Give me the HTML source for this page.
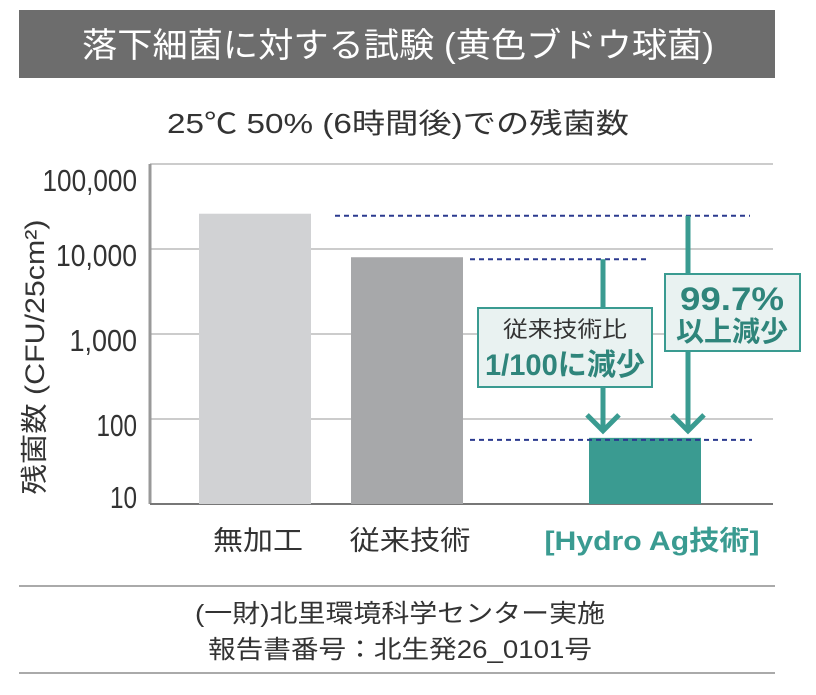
<!DOCTYPE html>
<html><head><meta charset="utf-8"><style>
html,body{margin:0;padding:0;background:#fff;}
svg{display:block;font-family:"Liberation Sans","Noto Sans CJK JP",sans-serif;}
</style></head><body>
<svg id="chart" width="816" height="695" viewBox="0 0 816 695">
<rect x="19" y="10" width="756" height="68" fill="#6d6d6d"/>
<text x="398" y="57" text-anchor="middle" fill="#fff" font-size="34" textLength="632" lengthAdjust="spacingAndGlyphs">落下細菌に対する試験 (黄色ブドウ球菌)</text>
<text x="398" y="133" text-anchor="middle" fill="#333" font-size="28" textLength="462" lengthAdjust="spacingAndGlyphs">25℃ 50% (6時間後)での残菌数</text>
<text transform="translate(44,357) rotate(-90)" text-anchor="middle" fill="#333" font-size="27" textLength="275" lengthAdjust="spacingAndGlyphs">残菌数 (CFU/25cm²)</text>
<g id="grid"></g><g id="bars"></g><g id="ann"></g><g id="xl"></g>
<line x1="19" y1="586" x2="775" y2="586" stroke="#aaa" stroke-width="2"/>
<line x1="19" y1="673" x2="775" y2="673" stroke="#aaa" stroke-width="2"/>
<text x="400" y="622" text-anchor="middle" fill="#333" font-size="25" textLength="410" lengthAdjust="spacingAndGlyphs">(一財)北里環境科学センター実施</text>
<text x="400" y="658" text-anchor="middle" fill="#333" font-size="25" textLength="384" lengthAdjust="spacingAndGlyphs">報告書番号：北生発26_0101号</text>
</svg>
<script>
const categories=["無加工","従来技術","[Hydro Ag技術]"];
const values=[26000,8000,60];
const ticks=[10,100,1000,10000,100000];
const tickLabels=["10","100","1,000","10,000","100,000"];
const NS="http://www.w3.org/2000/svg";
const X0=150,X1=773,Y0=504,DEC=85;
function y(v){return Y0-(Math.log10(v)-1)*DEC;}
const barX=[199,351,589],barW=112;
function mk(tag,attrs,parent,txt){const e=document.createElementNS(NS,tag);for(const k in attrs)e.setAttribute(k,attrs[k]);if(txt!==undefined)e.textContent=txt;parent.appendChild(e);return e;}
const g=document.getElementById('grid');
ticks.forEach((t,i)=>{
  if(i>0){const l=mk('line',{x1:X0,x2:X1,y1:y(t),y2:y(t),stroke:'#bbb','stroke-width':1.5},g);
  
  }
  const off=i===0?-7:(i===ticks.length-1?16:6);
  const tx=mk('text',{x:137,y:y(t)+off+11,'text-anchor':'end','font-size':31,fill:'#333',textLength:tickLabels[i].length*13.5,lengthAdjust:'spacingAndGlyphs'},g,tickLabels[i]);
  
  
});
const ax=mk('line',{x1:X0,x2:X0,y1:y(100000),y2:Y0,stroke:'#999','stroke-width':3},g);


const bx=mk('line',{x1:X0,x2:X1,y1:Y0,y2:Y0,stroke:'#777','stroke-width':2},g);


const colors=['#d1d2d4','#a7a8aa','#3a9b91'];
const b=document.getElementById('bars');
values.forEach((v,i)=>{
  const r=mk('rect',{x:barX[i],y:y(v),width:barW,height:Y0-y(v),fill:colors[i]},b);
  
  
});
const xl=document.getElementById('xl');
const lx=[258,410,652];
categories.forEach((c,i)=>{
  const t=mk('text',{x:lx[i],y:550,'text-anchor':'middle','font-size':27,fill:i==2?'#3a9b91':'#333','font-weight':i==2?'bold':'normal',textLength:i==2?215:(i==0?90:121),lengthAdjust:'spacingAndGlyphs'},xl,c);
  
  
});
const a=document.getElementById('ann');
const T='#3a9b91';
function dash(x1,x2,v){const l=mk('line',{x1:x1,x2:x2,y1:y(v)+2,y2:y(v)+2,stroke:'#2b3a8f','stroke-width':2,'stroke-dasharray':'5,4'},a);

}
dash(335,750,values[0]);dash(470,650,values[1]);dash(470,752,values[2]);
function arrow(x,v1,v2){
  const top=y(v1)+2,bot=y(v2)-6;
  const p=mk('path',{d:`M${x},${top}V${bot}M${x-16},${bot-17}L${x},${bot-1}L${x+16},${bot-17}`,stroke:T,'stroke-width':5,fill:'none'},a);
  
  
}
arrow(603,values[1],values[2]);arrow(688,values[0],values[2]);
const b1=mk('rect',{x:478,y:308,width:174,height:79,fill:'#e9f2f1',stroke:T,'stroke-width':2},a);


const t1=mk('text',{x:565,y:337,'text-anchor':'middle','font-size':22,fill:'#333',textLength:124,lengthAdjust:'spacingAndGlyphs'},a,'従来技術比');


const t2=mk('text',{x:565,y:375,'text-anchor':'middle','font-size':30,'font-weight':'bold',fill:'#2f857b',textLength:160,lengthAdjust:'spacingAndGlyphs'},a,'1/100に減少');


const b2=mk('rect',{x:665,y:274,width:135,height:77,fill:'#e9f2f1',stroke:T,'stroke-width':2},a);


const t3=mk('text',{x:732,y:310,'text-anchor':'middle','font-size':32,'font-weight':'bold',fill:'#2f857b',textLength:104,lengthAdjust:'spacingAndGlyphs'},a,'99.7%');


const t4=mk('text',{x:732,y:341,'text-anchor':'middle','font-size':28,'font-weight':'bold',fill:'#2f857b',textLength:112,lengthAdjust:'spacingAndGlyphs'},a,'以上減少');


</script>
</body></html>
